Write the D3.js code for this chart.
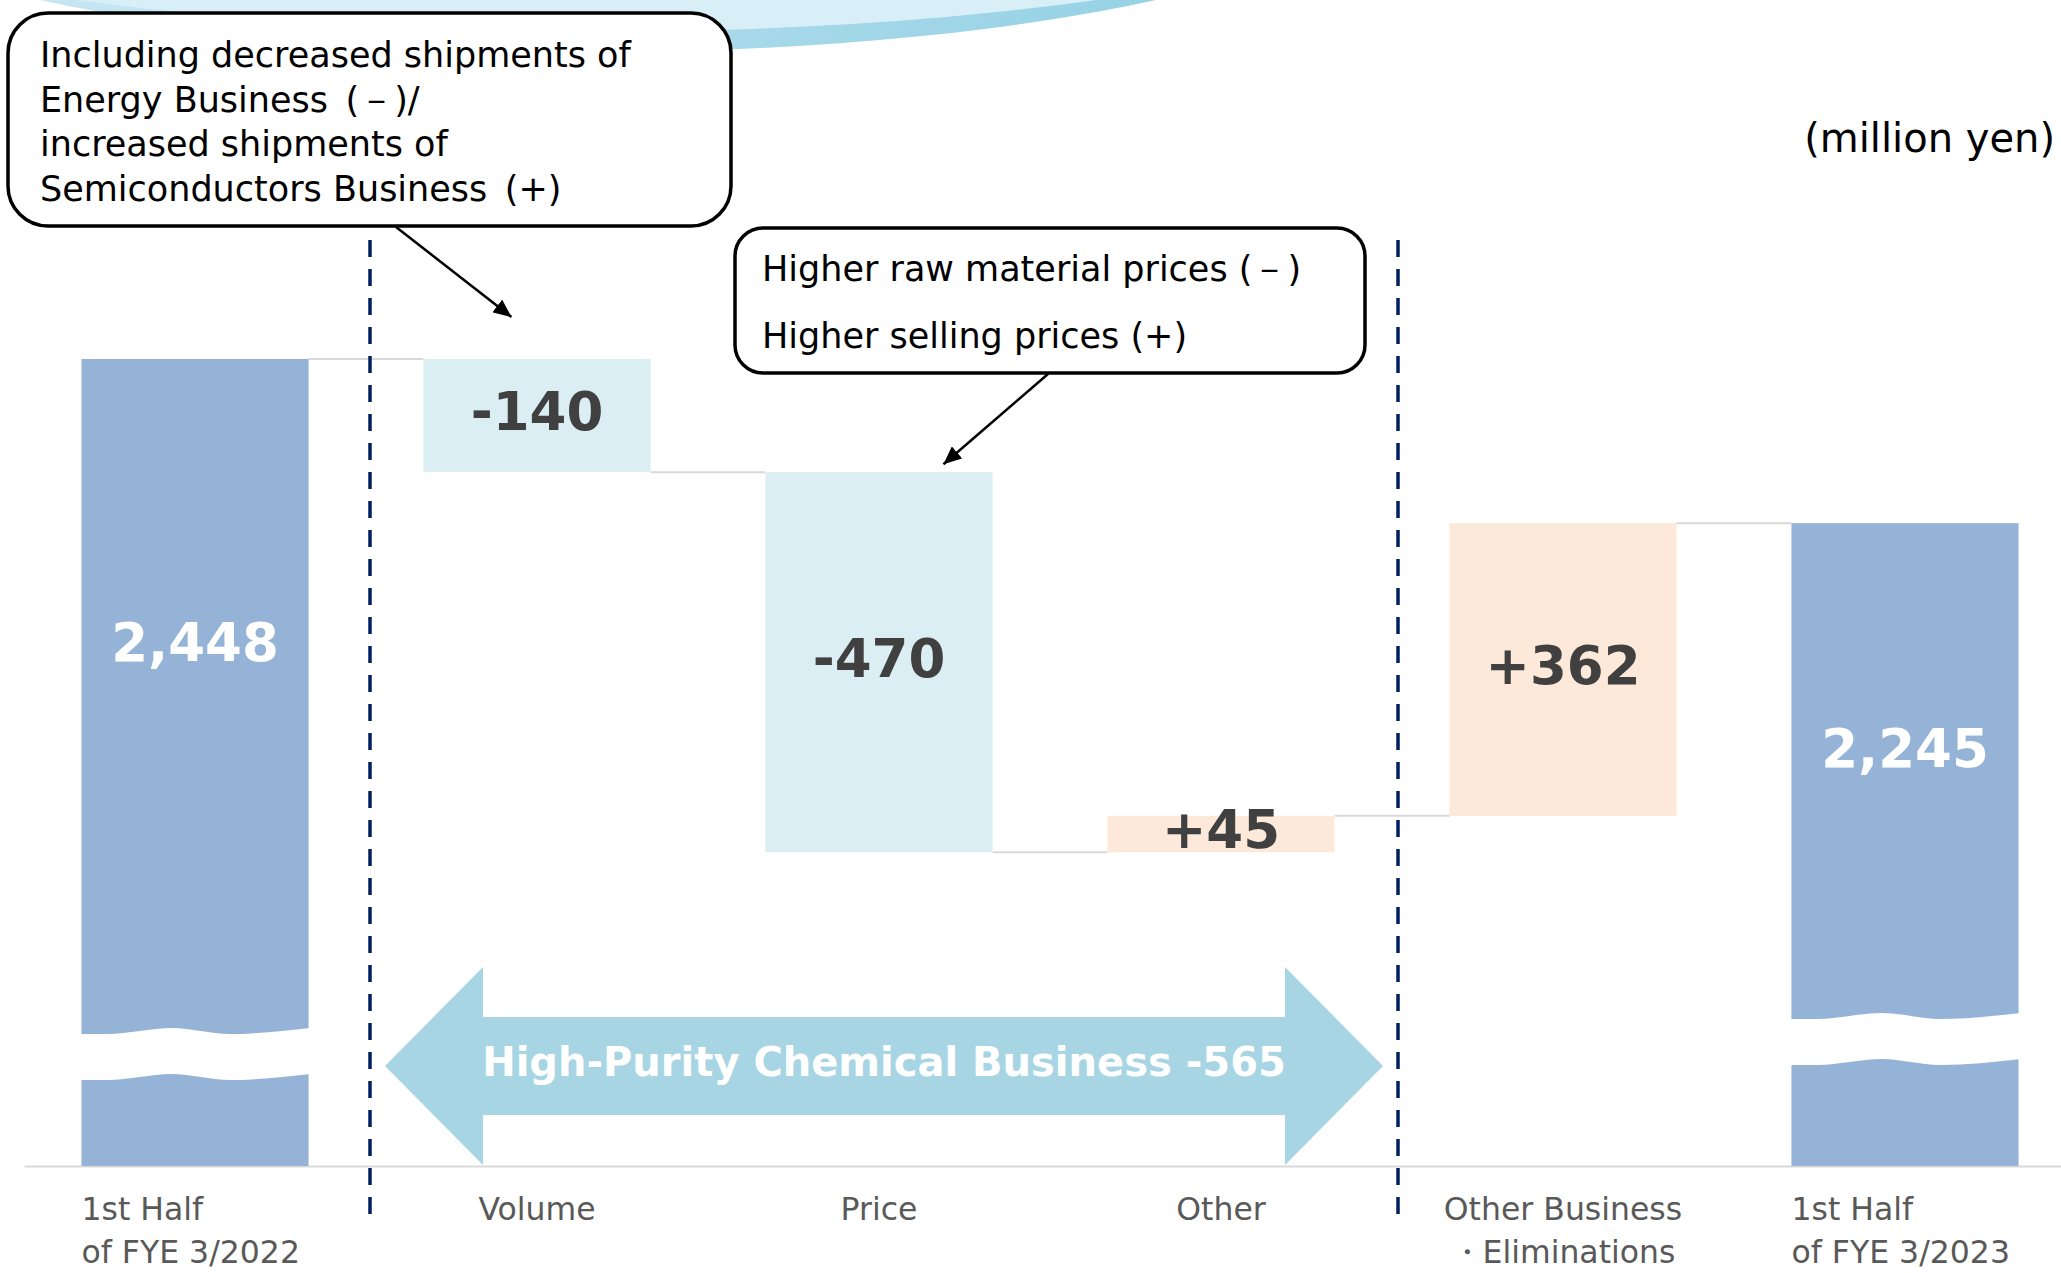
<!DOCTYPE html>
<html>
<head>
<meta charset="utf-8">
<script src="https://cdn.jsdelivr.net/npm/d3@7"></script>
<style>
  html, body { margin: 0; padding: 0; background: #fff; }
  svg { display: block; }
</style>
</head>
<body>
<div id="chart"></div>
<script>
// Data

const categories = ['start', 'volume', 'price', 'other', 'otherBusiness', 'end'];
const categoryLines = [
  ['1st Half', 'of FYE 3/2022'],
  ['Volume'],
  ['Price'],
  ['Other'],
  ['Other Business', '・Eliminations'],
  ['1st Half', 'of FYE 3/2023'],
];
const values = [2448, -140, -470, 45, 362, 2245];
const barKinds = ['total', 'delta', 'delta', 'delta', 'delta', 'total'];
const valueLabels = ['2,448', '-140', '-470', '+45', '+362', '2,245'];

// The value axis is broken: bars start here, not at zero
const axisFloor = 1450;

// Bracketed group of categories (first, last) and its label
const groupRange = ['volume', 'other'];
const groupLabel = 'High-Purity Chemical Business -565';

const unitLabel = '(million yen)';
const noteVolume = [
  'Including decreased shipments of',
  'Energy Business\u2002(－)/',
  'increased shipments of',
  'Semiconductors Business\u2002(+)',
];
const notePrice = [
  'Higher raw material prices (－)',
  'Higher selling prices (+)',
];

// Colours

const colors = {
  total: '#95b3d7',
  down: '#dbeef4',
  up: '#fde9d9',
  connector: '#d9d9d9',
  separator: '#002060',
  arrow: '#a7d5e3',
  label: '#404040',
  axisText: '#595959',
};

const width = 2061;
const height = 1273;
const baseY = 1166;

const svg = d3.select('#chart').append('svg')
  .attr('width', width)
  .attr('height', height)
  .style('font-family', '"DejaVu Sans", Verdana, sans-serif');

// Waterfall segments: each bar runs from y0 to y1 (in value units)

let running = 0;
const bars = values.map((v, i) => {
  let y0, y1;
  if (barKinds[i] === 'total') {
    y0 = axisFloor;
    y1 = v;
    running = v;
  } else {
    y0 = running;
    y1 = running + v;
    running = y1;
  }
  return { key: categories[i], value: v, kind: barKinds[i], y0, y1, end: running, label: valueLabels[i] };
});

// Scales

const xScale = d3.scaleBand()
  .domain(categories)
  .range([24, 2076])
  .paddingInner(0.336)
  .paddingOuter(0.168);

const yScale = d3.scaleLinear()
  .domain([axisFloor, d3.max(bars, d => Math.max(d.y0, d.y1))])
  .range([baseY, 359]);

const bw = xScale.bandwidth();

// Decorative arc at the top of the slide

const defs = svg.append('defs');
const grad = defs.append('linearGradient').attr('id', 'arcGrad')
  .attr('x1', 0).attr('x2', 1).attr('y1', 0).attr('y2', 0);
grad.append('stop').attr('offset', '0%').attr('stop-color', '#d3ecf5');
grad.append('stop').attr('offset', '55%').attr('stop-color', '#a9daea');
grad.append('stop').attr('offset', '100%').attr('stop-color', '#8ccde2');

svg.append('ellipse')
  .attr('cx', 598).attr('cy', -150).attr('rx', 833).attr('ry', 202)
  .attr('fill', 'url(#arcGrad)');
svg.append('ellipse')
  .attr('cx', 587).attr('cy', -160).attr('rx', 922).attr('ry', 192)
  .attr('fill', '#d9eff7');

// Axis (baseline + category labels)

const xAxis = d3.axisBottom(xScale).tickSize(0).tickSizeOuter(0).tickFormat('');
const xAxisGroup = svg.append('g')
  .attr('transform', `translate(0, ${baseY})`)
  .call(xAxis);

xAxisGroup.select('.domain')
  .attr('stroke', colors.connector)
  .attr('stroke-width', 2);

xAxisGroup.selectAll('.tick text').each(function (d, i) {
  const text = d3.select(this);
  const edge = barKinds[i] === 'total';
  const tx = edge ? -bw / 2 : 0;
  text.attr('dy', null).attr('y', null)
    .attr('text-anchor', edge ? 'start' : 'middle')
    .attr('fill', colors.axisText)
    .attr('font-size', 31.5)
    .attr('font-family', '"DejaVu Sans", Verdana, sans-serif');
  categoryLines[i].forEach((line, j) => {
    text.append('tspan').attr('x', tx).attr('y', 54 + j * 43).text(line);
  });
});

// Connector lines between bars

const connectors = svg.append('g');
bars.slice(0, -1).forEach((b, i) => {
  const next = bars[i + 1];
  connectors.append('line')
    .attr('x1', xScale(b.key) + bw)
    .attr('x2', xScale(next.key))
    .attr('y1', yScale(b.end))
    .attr('y2', yScale(b.end))
    .attr('stroke', colors.connector)
    .attr('stroke-width', 2);
});

// Bars

const fillFor = d => d.kind === 'total' ? colors.total : (d.value < 0 ? colors.down : colors.up);

svg.append('g')
  .selectAll('rect')
  .data(bars)
  .enter()
  .append('rect')
  .attr('x', d => xScale(d.key))
  .attr('width', bw)
  .attr('y', d => yScale(Math.max(d.y0, d.y1)))
  .attr('height', d => Math.abs(yScale(d.y0) - yScale(d.y1)))
  .attr('fill', fillFor);

// Axis break on the total bars: a white wavy band

const breakOffset = { start: 112, end: 127 };
const wave = [[0, 3], [0.12, 3], [0.4, -3], [0.65, 3], [1, -3]];
const waveLine = d3.line().curve(d3.curveMonotoneX);

bars.filter(d => d.kind === 'total').forEach(d => {
  const x0 = xScale(d.key) - 2;
  const w = bw + 4;
  const yc = baseY - breakOffset[d.key];
  const top = wave.map(([t, dy]) => [x0 + t * w, yc - 23 + dy]);
  const bottom = wave.map(([t, dy]) => [x0 + t * w, yc + 23 + dy]).reverse();
  const path = waveLine(top) + 'L' + waveLine(bottom).slice(1) + 'Z';
  svg.append('path').attr('d', path).attr('fill', '#fff');
});

// Value labels

svg.append('g')
  .selectAll('text')
  .data(bars)
  .enter()
  .append('text')
  .attr('x', d => xScale(d.key) + bw / 2)
  .attr('y', d => {
    const top = yScale(Math.max(d.y0, d.y1));
    const bottom = yScale(Math.min(d.y0, d.y1));
    const cy = d.kind === 'total' ? top + 0.35 * (bottom - top) : (top + bottom) / 2 - 5;
    return cy + 0.365 * 53;
  })
  .attr('text-anchor', 'middle')
  .attr('font-size', 53)
  .attr('font-weight', 'bold')
  .attr('fill', d => d.kind === 'total' ? '#fff' : colors.label)
  .text(d => d.label);

// Dashed separators around the bracketed group

const sepX = [
  (xScale(categories[0]) + bw + xScale(groupRange[0])) / 2 + 4,
  (xScale(groupRange[1]) + bw + xScale(categories[categories.indexOf(groupRange[1]) + 1])) / 2 + 6,
];

svg.append('g')
  .selectAll('line')
  .data(sepX)
  .enter()
  .append('line')
  .attr('x1', d => d).attr('x2', d => d)
  .attr('y1', 240).attr('y2', 1222)
  .attr('stroke', colors.separator)
  .attr('stroke-width', 3.5)
  .attr('stroke-dasharray', '17,12');

// Double-headed arrow under the group

const ax0 = sepX[0] + 15;
const ax1 = sepX[1] - 15;
const acy = baseY - 100;
const head = 98;
const headH = 99;
const shaftH = 49;
const arrowPts = [
  [ax0, acy],
  [ax0 + head, acy - headH],
  [ax0 + head, acy - shaftH],
  [ax1 - head, acy - shaftH],
  [ax1 - head, acy - headH],
  [ax1, acy],
  [ax1 - head, acy + headH],
  [ax1 - head, acy + shaftH],
  [ax0 + head, acy + shaftH],
  [ax0 + head, acy + headH],
];
svg.append('polygon')
  .attr('points', arrowPts.map(p => p.join(',')).join(' '))
  .attr('fill', colors.arrow);

svg.append('text')
  .attr('x', (ax0 + ax1) / 2)
  .attr('y', acy + 10)
  .attr('text-anchor', 'middle')
  .attr('font-size', 40)
  .attr('font-weight', 'bold')
  .attr('fill', '#fff')
  .text(groupLabel);

// Unit label (kept inside the right edge)

svg.append('text')
  .attr('x', width - 6)
  .attr('y', 152)
  .attr('text-anchor', 'end')
  .attr('font-size', 40)
  .attr('fill', '#000')
  .text(unitLabel);

// Callout boxes with pointers

defs.append('marker')
  .attr('id', 'tip')
  .attr('markerUnits', 'userSpaceOnUse')
  .attr('markerWidth', 20).attr('markerHeight', 16)
  .attr('refX', 18).attr('refY', 8)
  .attr('orient', 'auto')
  .append('path')
  .attr('d', 'M0,0 L18,8 L0,16 Z')
  .attr('fill', '#000');

function callout(box, lines, textX, firstBaseline, lineGap, pointer) {
  const g = svg.append('g');
  g.append('line')
    .attr('x1', pointer[0]).attr('y1', pointer[1])
    .attr('x2', pointer[2]).attr('y2', pointer[3])
    .attr('stroke', '#000')
    .attr('stroke-width', 2.5)
    .attr('marker-end', 'url(#tip)');
  g.append('rect')
    .attr('x', box.x).attr('y', box.y)
    .attr('width', box.w).attr('height', box.h)
    .attr('rx', box.r).attr('ry', box.r)
    .attr('fill', '#fff')
    .attr('stroke', '#000')
    .attr('stroke-width', 3.5);
  g.selectAll('text.note')
    .data(lines)
    .enter()
    .append('text')
    .attr('class', 'note')
    .attr('x', textX)
    .attr('y', (d, i) => firstBaseline + i * lineGap)
    .attr('font-size', 35)
    .attr('fill', '#000')
    .text(d => d);
}

callout({ x: 8, y: 13, w: 723, h: 213, r: 40 }, noteVolume, 40, 67, 44.7,
  [396, 227, xScale('volume') + 88, yScale(bars[1].y0) - 42]);
callout({ x: 735, y: 228, w: 630, h: 145, r: 28 }, notePrice, 762, 281, 67,
  [1048, 374, xScale('price') + 178, yScale(bars[2].y0) - 8]);
</script>
</body>
</html>
